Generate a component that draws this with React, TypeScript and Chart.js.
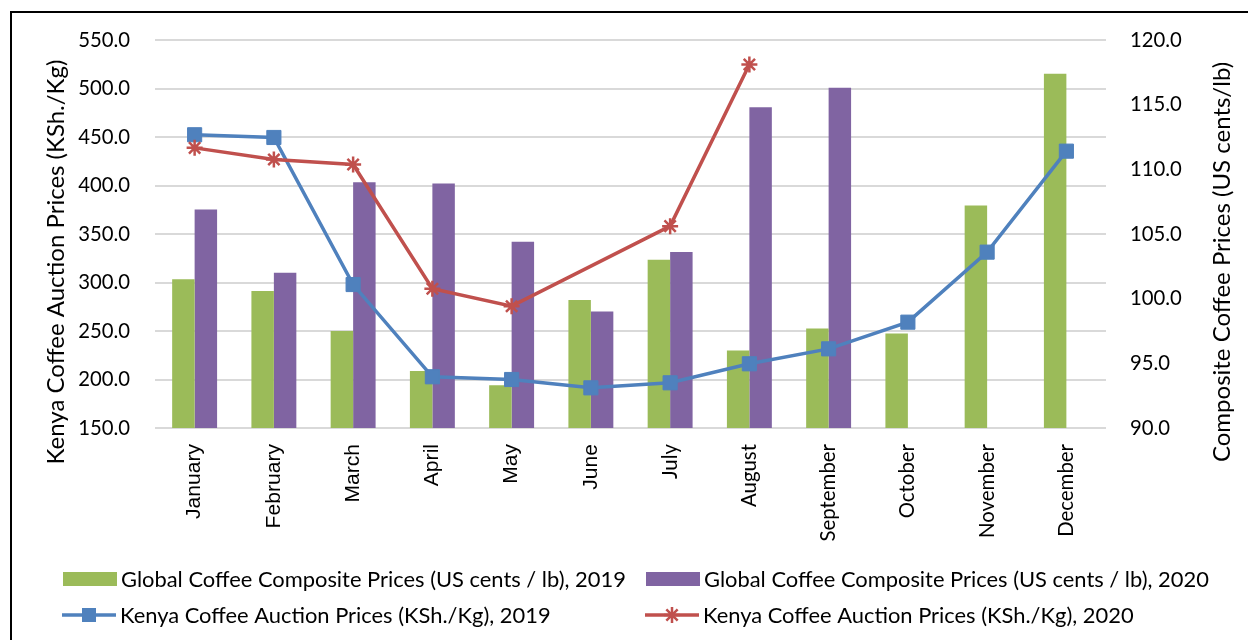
import React, { useEffect, useRef } from 'react';
import { Chart, registerables } from 'chart.js';

Chart.register(...registerables);

// ---------- data ----------
const months = [
  'January', 'February', 'March', 'April', 'May', 'June',
  'July', 'August', 'September', 'October', 'November', 'December',
];

// Global Coffee Composite Prices (US cents / lb) – right axis
const composite2019 = [101.5, 100.6, 97.5, 94.4, 93.3, 99.9, 103.0, 96.0, 97.7, 97.3, 107.2, 117.4];
const composite2020 = [106.9, 102.0, 109.0, 108.9, 104.4, 99.0, 103.6, 114.8, 116.3, null, null, null];

// Kenya Coffee Auction Prices (KSh./Kg) – left axis
const kenya2019 = [452.3, 449.5, 297.9, 202.8, 200.0, 191.4, 196.6, 216.2, 231.6, 259.1, 331.3, 435.4];
const kenya2020 = [438.8, 426.8, 421.6, 293.5, 275.6, null, 358.1, 524.7, null, null, null, null];

const seriesNames = [
  'Global Coffee Composite Prices (US cents / lb), 2019',
  'Global Coffee Composite Prices (US cents / lb), 2020',
  'Kenya Coffee Auction Prices (KSh./Kg), 2019',
  'Kenya Coffee Auction Prices (KSh./Kg), 2020',
];

const leftAxisTitle = 'Kenya Coffee Auction Prices (KSh./Kg)';
const rightAxisTitle = 'Composite Coffee Prices (US cents/lb)';

const leftMin = 150;
const leftMax = 550;
const leftStep = 50;
const rightMin = 90;
const rightMax = 120;
const rightStep = 5;

// ---------- styles ----------
const GREEN = '#9BBB59';
const PURPLE = '#8064A2';
const BLUE = '#4F81BD';
const RED = '#C0504D';
const GRID = '#D9D9D9';
const FONT = 'Lato';
const SANS = '"Liberation Sans", Arial';

function fitSize(text: string, family: string, target: number): number {
  const c = document.createElement('canvas').getContext('2d') as CanvasRenderingContext2D;
  c.font = `100px ${family}`;
  const w = c.measureText(text).width;
  return Math.round((100 * target) / w * 10) / 10;
}

function drawStar(ctx: CanvasRenderingContext2D, x: number, y: number, r: number) {
  ctx.beginPath();
  ctx.moveTo(x - r, y);
  ctx.lineTo(x + r, y);
  ctx.moveTo(x, y - r);
  ctx.lineTo(x, y + r);
  const d = r * Math.SQRT1_2;
  ctx.moveTo(x - d, y - d);
  ctx.lineTo(x + d, y + d);
  ctx.moveTo(x - d, y + d);
  ctx.lineTo(x + d, y - d);
  ctx.stroke();
}

export default function App() {
  const ref = useRef<HTMLCanvasElement | null>(null);

  useEffect(() => {
    if (!ref.current) return;

    const tickSize = fitSize('550.0', FONT, 52);
    const xLatoSize = fitSize('December', FONT, 93);
    const xSansSize = fitSize('January', SANS, 75);
    const legendSize = fitSize(seriesNames[0], FONT, 506);
    const titleSize = fitSize(rightAxisTitle, FONT, 400);

    const decor = {
      id: 'decor',
      afterDraw(chart: any) {
        const ctx: CanvasRenderingContext2D = chart.ctx;
        ctx.save();
        ctx.fillStyle = '#000';
        ctx.textAlign = 'center';
        ctx.textBaseline = 'middle';
        ctx.font = `${titleSize}px ${FONT}`;
        // left title
        ctx.save();
        ctx.translate(56, 262);
        ctx.rotate(-Math.PI / 2);
        ctx.fillText(leftAxisTitle, 0, 0);
        ctx.restore();
        // right title (reads bottom-to-top)
        ctx.save();
        ctx.translate(1222, 262);
        ctx.rotate(-Math.PI / 2);
        ctx.fillText(rightAxisTitle, 0, 0);
        ctx.restore();

        // legend
        const items = [
          { kind: 'bar', color: GREEN, x: 63, y: 579, label: seriesNames[0] },
          { kind: 'bar', color: PURPLE, x: 646, y: 579, label: seriesNames[1] },
          { kind: 'rect', color: BLUE, x: 62, y: 615, label: seriesNames[2] },
          { kind: 'star', color: RED, x: 645, y: 615, label: seriesNames[3] },
        ];
        ctx.font = `${legendSize}px ${FONT}`;
        ctx.textAlign = 'left';
        for (const it of items) {
          if (it.kind === 'bar') {
            ctx.fillStyle = it.color;
            ctx.fillRect(it.x, it.y - 7, 54, 14);
          } else {
            ctx.strokeStyle = it.color;
            ctx.lineWidth = 3.5;
            ctx.beginPath();
            ctx.moveTo(it.x, it.y);
            ctx.lineTo(it.x + 54, it.y);
            ctx.stroke();
            if (it.kind === 'rect') {
              ctx.fillStyle = it.color;
              ctx.fillRect(it.x + 27 - 7, it.y - 7, 14, 14);
            } else {
              ctx.lineWidth = 2.5;
              drawStar(ctx, it.x + 27, it.y, 8);
            }
          }
          ctx.fillStyle = '#000';
          ctx.fillText(it.label, it.x + 58, it.y + 1);
        }
        ctx.restore();
      },
    };

    const chart = new Chart(ref.current, {
      type: 'bar',
      data: {
        labels: months,
        datasets: [
          {
            type: 'bar',
            label: seriesNames[0],
            data: composite2019,
            backgroundColor: GREEN,
            yAxisID: 'y1',
            order: 2,
            categoryPercentage: 0.567,
            barPercentage: 1,
          },
          {
            type: 'bar',
            label: seriesNames[1],
            data: composite2020,
            backgroundColor: PURPLE,
            yAxisID: 'y1',
            order: 3,
            categoryPercentage: 0.567,
            barPercentage: 1,
          },
          {
            type: 'line',
            label: seriesNames[2],
            data: kenya2019,
            borderColor: BLUE,
            backgroundColor: BLUE,
            borderWidth: 3.5,
            pointStyle: 'rect',
            pointRadius: 10,
            pointBorderWidth: 1,
            pointBackgroundColor: BLUE,
            pointBorderColor: BLUE,
            yAxisID: 'y',
            order: 1,
            tension: 0,
            spanGaps: true,
          },
          {
            type: 'line',
            label: seriesNames[3],
            data: kenya2020,
            borderColor: RED,
            backgroundColor: RED,
            borderWidth: 3.5,
            pointStyle: 'star',
            pointRadius: 8,
            pointBorderWidth: 2.5,
            pointBorderColor: RED,
            pointBackgroundColor: RED,
            yAxisID: 'y',
            order: 0,
            tension: 0,
            spanGaps: true,
          },
        ] as any,
      },
      options: {
        responsive: false,
        animation: false,
        layout: { padding: { top: 40, left: 0, right: 0, bottom: 0 } },
        plugins: {
          legend: { display: false },
          tooltip: { enabled: false },
        },
        scales: {
          x: {
            grid: { display: false, drawTicks: false },
            border: { display: false },
            ticks: {
              autoSkip: false,
              minRotation: 90,
              maxRotation: 90,
              padding: 16,
              color: '#000',
              font: (c: any) =>
                c.index < 6
                  ? { family: SANS, size: xSansSize }
                  : { family: FONT, size: xLatoSize },
            },
            afterFit: (s: any) => {
              s.height = 212;
            },
          },
          y: {
            position: 'left',
            min: leftMin,
            max: leftMax,
            ticks: {
              stepSize: leftStep,
              padding: 25,
              color: '#000',
              font: { family: FONT, size: tickSize },
              callback: (v: any) => Number(v).toFixed(1),
            },
            grid: { color: GRID, lineWidth: 2, drawTicks: false },
            border: { display: false },
            afterFit: (s: any) => {
              s.width = 155;
            },
          },
          y1: {
            position: 'right',
            min: rightMin,
            max: rightMax,
            ticks: {
              stepSize: rightStep,
              padding: 24,
              color: '#000',
              font: { family: FONT, size: tickSize },
              callback: (v: any) => Number(v).toFixed(1),
            },
            grid: { display: false, drawTicks: false },
            border: { display: false },
            afterFit: (s: any) => {
              s.width = 142;
            },
          },
        },
      } as any,
      plugins: [decor],
    });

    return () => chart.destroy();
  }, []);

  return (
    <div
      style={{
        position: 'absolute',
        left: 0,
        top: 0,
        width: 1248,
        height: 640,
        overflow: 'hidden',
        background: '#fff',
      }}
    >
      <div
        style={{
          position: 'absolute',
          left: 10,
          top: 11,
          width: 1300,
          height: 700,
          border: '2px solid #000',
          boxSizing: 'border-box',
        }}
      />
      <canvas
        ref={ref}
        width={1248}
        height={640}
        style={{ position: 'absolute', left: 0, top: 0, display: 'block' }}
      />
    </div>
  );
}
